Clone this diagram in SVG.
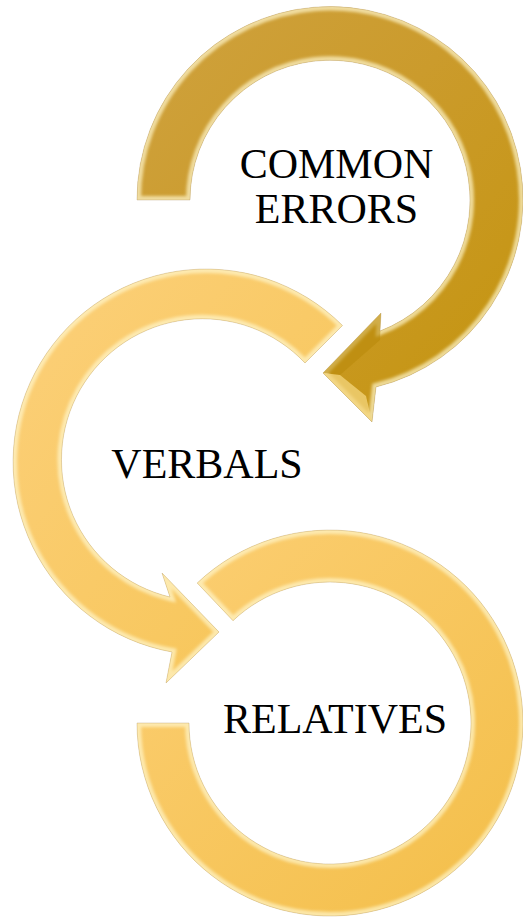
<svg xmlns="http://www.w3.org/2000/svg" width="523" height="917" viewBox="0 0 523 917">
<style>
.lbl{font-family:"Liberation Serif","Times New Roman",serif;font-size:42px;fill:#000;text-anchor:middle}
.rim{fill:none;stroke:#FFF6CC;stroke-width:8;stroke-opacity:0.7}
.edge{fill:none;stroke:#A88A50;stroke-width:0.6;stroke-opacity:0.5}
</style>
<defs>
<linearGradient id="gTop" x1="0" y1="0" x2="1" y2="1">
<stop offset="0" stop-color="#CFA23E"/>
<stop offset="0.45" stop-color="#CB9B2C"/>
<stop offset="1" stop-color="#C4940C"/>
</linearGradient>
<linearGradient id="gMid" x1="0" y1="0" x2="1" y2="1">
<stop offset="0" stop-color="#FCD07A"/>
<stop offset="1" stop-color="#F6C454"/>
</linearGradient>
<linearGradient id="gBot" x1="0" y1="0" x2="1" y2="1">
<stop offset="0" stop-color="#FCCF74"/>
<stop offset="1" stop-color="#F3BE48"/>
</linearGradient>
<filter id="soft" x="-10%" y="-10%" width="120%" height="120%"><feGaussianBlur stdDeviation="1.8"/></filter>
<path id="pTop" d="M 190,200 A 140 140 0 1 1 380,331 L 381,313 L 323,373 L 372,422 L 376,387 A 193 193 0 1 0 137,200 Z"/>
<path id="pMid" d="M 305,363 A 141 141 0 1 0 170,597 L 162,573 L 219,632 L 166,683 L 172,652 A 193 193 0 1 1 342.5,325.5 Z"/>
<path id="pBot" d="M 197.2,583 A 193 193 0 1 1 137,723 L 189,723 A 141 141 0 1 0 233,620.7 Z"/>
<clipPath id="cTop"><use href="#pTop"/></clipPath>
<clipPath id="cMid"><use href="#pMid"/></clipPath>
<clipPath id="cBot"><use href="#pBot"/></clipPath>
</defs>
<rect width="523" height="917" fill="#FFFFFF"/>
<g id="node-common-errors">
<use href="#pTop" fill="url(#gTop)"/>
<g clip-path="url(#cTop)">
<use href="#pTop" class="rim" filter="url(#soft)"/>
<polygon points="381,313 323,373 340,375 380,340" fill="#B8880A" opacity="0.55"/>
<polygon points="323,373 372,422 366,396 340,375" fill="#F4D67E" opacity="0.75"/>
</g>
<use href="#pTop" class="edge"/>
<text class="lbl" x="336.5" y="178">COMMON</text>
<text class="lbl" x="336.5" y="223">ERRORS</text>
</g>
<g id="node-verbals">
<use href="#pMid" fill="url(#gMid)"/>
<g clip-path="url(#cMid)">
<use href="#pMid" class="rim" filter="url(#soft)"/>
</g>
<use href="#pMid" class="edge"/>
<text class="lbl" x="207" y="478">VERBALS</text>
</g>
<g id="node-relatives">
<use href="#pBot" fill="url(#gBot)"/>
<g clip-path="url(#cBot)">
<use href="#pBot" class="rim" filter="url(#soft)"/>
</g>
<use href="#pBot" class="edge"/>
<text class="lbl" x="335" y="733">RELATIVES</text>
</g>
<g id="connectors"/>
</svg>
